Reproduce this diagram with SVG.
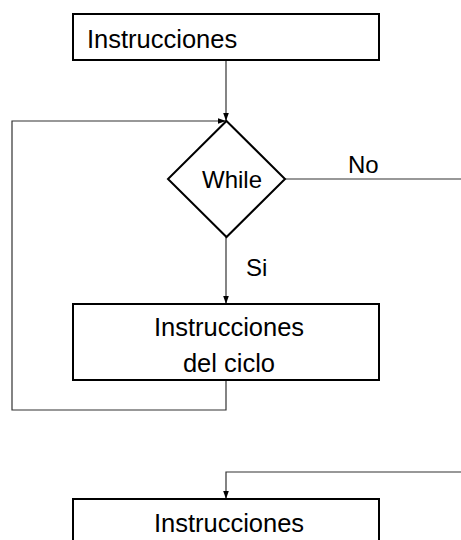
<svg xmlns="http://www.w3.org/2000/svg" width="461" height="540" viewBox="0 0 461 540">
<defs>
<style>
.box{fill:#fff;stroke:#000;stroke-width:2}
.ln{fill:none;stroke:#333;stroke-width:1.2}
text{font-family:"Liberation Sans",Arial,sans-serif;font-size:24px;fill:#000}
.big{font-size:25.5px}
</style>
<marker id="ah" viewBox="0 0 10 10" refX="10" refY="5" markerWidth="8" markerHeight="8" markerUnits="userSpaceOnUse" orient="auto">
<path d="M0,1.5 L10,5 L0,8.5 z" fill="#000"/>
</marker>
</defs>
<rect width="461" height="540" fill="#fff"/>
<g id="connectors">
<path class="ln" d="M226,60 V121" marker-end="url(#ah)"/>
<path class="ln" d="M226,380 V410 H12 V121 H226" marker-end="url(#ah)"/>
<path class="ln" d="M285,179 H461"/>
<path class="ln" d="M226,236 V304" marker-end="url(#ah)"/>
<path class="ln" d="M461,472 H226 V499" marker-end="url(#ah)"/>
<text x="348" y="173">No</text>
<text x="246" y="276">Si</text>
</g>
<g id="start">
<rect class="box" x="73" y="14" width="306" height="46"/>
<text class="big" x="87" y="48">Instrucciones</text>
</g>
<g id="while">
<path class="box" d="M226.5,121 L285,179 L226.5,237 L168,179 Z"/>
<text x="232" y="188" text-anchor="middle">While</text>
</g>
<g id="loop">
<rect class="box" x="73" y="304" width="306" height="76"/>
<text class="big" x="229" y="336" text-anchor="middle">Instrucciones</text>
<text class="big" x="229" y="372" text-anchor="middle">del ciclo</text>
</g>
<g id="after">
<rect class="box" x="73" y="499" width="306" height="60"/>
<text class="big" x="229" y="532" text-anchor="middle">Instrucciones</text>
</g>
</svg>
